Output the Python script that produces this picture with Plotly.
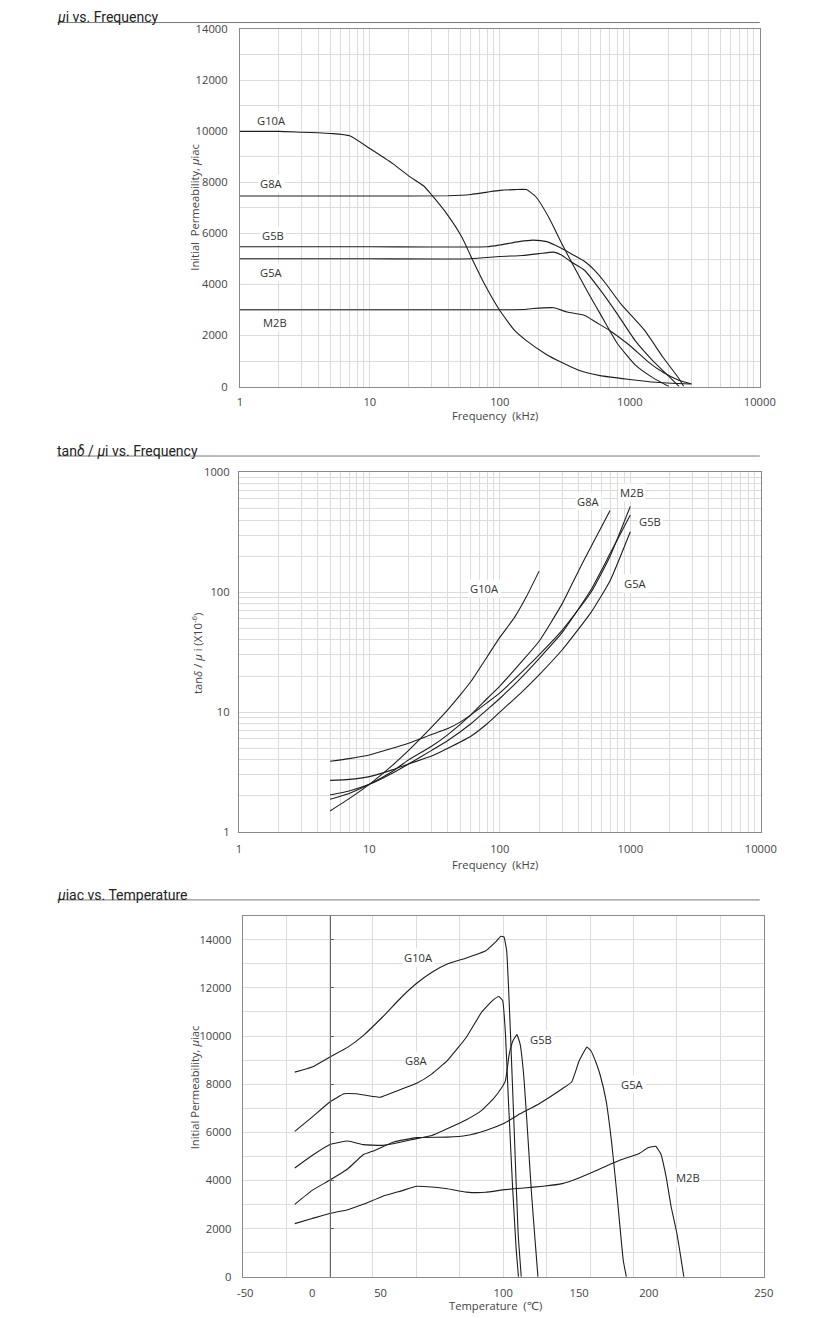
import math
import plotly.graph_objects as go

# Figure size; reference positions (in picture pixels) are mapped into figure
# pixels with the small offset/scale observed for the page in this viewer.
W, H = 821, 1318
SX, OX = 0.978, 5.5
SY, OY = 0.988, 7.95

# ---------------- Chart 1 : ui vs frequency ----------------
c1_names = ["G10A", "G8A", "G5B", "G5A", "M2B"]
c1_G10A_f = [1, 2, 3, 4, 5, 7, 10, 15, 20, 26, 30, 39, 51, 62, 76, 100, 130, 160, 225, 295, 400, 590, 1000, 1570, 2950]
c1_G10A_u = [10000, 10000, 9970, 9950, 9920, 9830, 9330, 8740, 8250, 7860, 7500, 6780, 5860, 4940, 4030, 2980, 2200, 1800, 1280, 960, 650, 430, 280, 170, 100]
c1_G8A_f = [1, 10, 40, 60, 80, 100, 130, 160, 190, 240, 300, 400, 500, 600, 800, 1100, 1500, 2000]
c1_G8A_u = [7470, 7470, 7480, 7530, 7620, 7690, 7720, 7720, 7430, 6600, 5600, 4400, 3500, 2800, 1700, 850, 350, 0]
c1_G5B_f = [1, 10, 80, 100, 140, 180, 230, 290, 370, 450, 530, 650, 850, 1300, 1800, 2400, 2600]
c1_G5B_u = [5480, 5480, 5480, 5550, 5680, 5740, 5680, 5450, 5150, 4900, 4580, 4050, 3250, 2200, 1150, 300, 0]
c1_G5A_f = [1, 10, 60, 100, 150, 200, 260, 300, 350, 450, 600, 800, 1100, 1500, 2000, 2400]
c1_G5A_u = [5010, 5010, 5010, 5100, 5140, 5210, 5270, 5150, 4900, 4550, 3750, 2850, 1800, 1020, 400, 0]
c1_M2B_f = [1, 10, 100, 150, 180, 260, 330, 450, 550, 700, 1000, 1400, 1800, 2400, 3000]
c1_M2B_u = [3010, 3010, 3010, 3020, 3060, 3090, 2920, 2790, 2520, 2200, 1610, 950, 560, 240, 100]
c1_lab_x = [1.75, 1.75, 1.79, 1.75, 1.87]
c1_lab_y = [10443, 7960, 5930, 4490, 2530]

# ---------------- Chart 2 : tan d / ui vs frequency ----------------
c2_G10A_f = [5, 7, 10, 15, 20, 30, 40, 50, 60, 80, 100, 130, 160, 200]
c2_G10A_v = [1.5, 1.9, 2.5, 3.6, 4.8, 7.5, 10.5, 14, 18, 29, 42, 62, 92, 150]
c2_G8A_f = [5, 7, 10, 15, 20, 30, 40, 60, 80, 100, 150, 200, 300, 400, 500, 700]
c2_G8A_v = [1.88, 2.1, 2.5, 3.2, 4.0, 5.2, 6.5, 9.5, 13, 16.5, 27, 39, 80, 150, 240, 480]
c2_M2B_f = [5, 7, 10, 20, 30, 40, 50, 60, 80, 100, 150, 200, 300, 500, 700, 1000]
c2_M2B_v = [3.9, 4.1, 4.4, 5.5, 6.5, 7.3, 8.3, 9.5, 12, 14.5, 22, 30, 48, 100, 200, 520]
c2_G5B_f = [5, 7, 10, 15, 20, 30, 40, 60, 80, 100, 150, 200, 300, 500, 700, 1000]
c2_G5B_v = [2.04, 2.2, 2.5, 3.1, 3.7, 4.8, 5.8, 8, 10.5, 13, 20, 28, 46, 105, 210, 440]
c2_G5A_f = [5, 7, 10, 15, 20, 30, 40, 60, 80, 100, 150, 200, 300, 500, 700, 1000]
c2_G5A_v = [2.7, 2.75, 2.9, 3.3, 3.7, 4.3, 5.0, 6.3, 8, 10, 15, 20.5, 33, 68, 125, 320]
c2_lab_names = ["G8A", "M2B", "G5B", "G10A", "G5A"]
c2_lab_x = [479, 1030, 1423, 76.4, 1102]
c2_lab_y = [568, 676, 392, 108, 119]

# ---------------- Chart 3 : uiac vs temperature ----------------
c3_G10A_t = [-20, -10, 0, 10.6, 19.4, 30.4, 41.4, 50.2, 59, 67.8, 78.8, 89.9, 95.4, 98.7, 100.4, 102, 104.2, 106.4, 108.6, 110.4]
c3_G10A_u = [8500, 8710, 9120, 9540, 10020, 10780, 11610, 12190, 12650, 12990, 13240, 13540, 13890, 14140, 14120, 13540, 10090, 5940, 1800, 0]
c3_G8A_t = [-20, -10, 0, 8.4, 15, 21.6, 29.3, 37, 50.2, 59, 67.8, 78.8, 87.6, 94.3, 97.5, 99.7, 101.3, 103, 105.3, 107.5, 108.8]
c3_G8A_u = [6040, 6630, 7250, 7600, 7600, 7530, 7460, 7670, 8040, 8430, 8980, 9950, 10990, 11500, 11640, 11470, 10090, 7330, 3870, 1110, 0]
c3_G5B_t = [-20, -10, 0, 10.6, 19.4, 30.4, 41.4, 50.2, 59, 70, 78.8, 87.6, 94.3, 98.7, 101.3, 103.5, 105.7, 107.9, 109.7, 111.9, 114.1, 116.3, 118.5, 120]
c3_G5B_u = [4520, 5040, 5490, 5640, 5490, 5460, 5600, 5740, 5870, 6220, 6520, 6910, 7390, 7810, 8150, 9260, 9810, 10060, 9670, 8290, 5940, 3460, 1380, 0]
c3_G5A_t = [-20, -10, 0, 10.6, 19.4, 26, 37, 50.2, 67.8, 78.8, 89.9, 100.9, 109.7, 120.7, 134, 139.4, 143.8, 148.2, 150.4, 153.7, 155.9, 159.2, 162.5, 165.8, 169.1, 170.9]
c3_G5A_u = [3010, 3590, 4010, 4490, 5070, 5250, 5600, 5780, 5800, 5870, 6080, 6390, 6770, 7190, 7810, 8090, 8980, 9540, 9400, 8850, 8360, 7330, 5530, 3180, 690, 0]
c3_M2B_t = [-20, -10, 0, 10.6, 19.4, 30.4, 41.4, 50.2, 59, 67.8, 78.8, 89.9, 100.9, 111.9, 122.9, 134, 145, 155.9, 167, 178, 183.4, 187.8, 190.7, 193.8, 196.7, 200, 202.2, 204]
c3_M2B_u = [2210, 2420, 2630, 2790, 3010, 3340, 3570, 3760, 3730, 3660, 3520, 3510, 3620, 3690, 3760, 3870, 4150, 4490, 4840, 5110, 5360, 5420, 5110, 4150, 2900, 1800, 830, 0]
c3_lab_x = [51.3, 50.2, 121.8, 174.2, 206.2]
c3_lab_y = [13240, 8983, 9840, 7988, 4118]
c3_tick_pos = [-48.5, -10, 29.4, 100, 143.7, 183.8, 250]
c3_tick_text = ["-50", "0", "50", "100", "150", "200", "250"]

LINE = dict(color="#1e1e1e", width=1.1, shape="spline", smoothing=0.5)
GRID = "#dcdcdc"
BOX = "#8a8a8a"
FS = 11.2
TICKFONT = dict(family="Open Sans, DejaVu Sans, sans-serif", size=FS, color="#444")


def fx(p):
    return (p - OX) / SX


def fy(p):
    return (p - OY) / SY


def px_x(p):
    return fx(p) / W


def px_y(p):
    return 1 - fy(p) / H


fig = go.Figure()

c1_data = [(c1_G10A_f, c1_G10A_u), (c1_G8A_f, c1_G8A_u), (c1_G5B_f, c1_G5B_u), (c1_G5A_f, c1_G5A_u), (c1_M2B_f, c1_M2B_u)]
for n, (f, u) in zip(c1_names, c1_data):
    fig.add_trace(go.Scatter(x=f, y=u, mode="lines", line=LINE, name=n, xaxis="x", yaxis="y", showlegend=False))

c2_data = [("G10A", c2_G10A_f, c2_G10A_v), ("G8A", c2_G8A_f, c2_G8A_v), ("M2B", c2_M2B_f, c2_M2B_v),
           ("G5B", c2_G5B_f, c2_G5B_v), ("G5A", c2_G5A_f, c2_G5A_v)]
for n, f, v in c2_data:
    fig.add_trace(go.Scatter(x=f, y=v, mode="lines", line=LINE, name=n, xaxis="x2", yaxis="y2", showlegend=False))

c3_data = [("G10A", c3_G10A_t, c3_G10A_u), ("G8A", c3_G8A_t, c3_G8A_u), ("G5B", c3_G5B_t, c3_G5B_u),
           ("G5A", c3_G5A_t, c3_G5A_u), ("M2B", c3_M2B_t, c3_M2B_u)]
for n, t, u in c3_data:
    fig.add_trace(go.Scatter(x=t, y=u, mode="lines",
                             line=dict(color="#1e1e1e", width=1.1, shape="spline", smoothing=0.35),
                             name=n, xaxis="x3", yaxis="y3", showlegend=False))


def log_ticks(dec_lo, dec_hi):
    vals, txt = [], []
    for d in range(dec_lo, dec_hi):
        for m in range(1, 10):
            vals.append(m * 10 ** d)
            txt.append(str(10 ** d) if m == 1 else "")
    vals.append(10 ** dec_hi)
    txt.append(str(10 ** dec_hi))
    return vals, txt


lx_vals, lx_txt = log_ticks(0, 4)
ly_vals, ly_txt = log_ticks(0, 3)
lin1_vals = list(range(0, 14001, 1000))
lin1_txt = [str(v) if v % 2000 == 0 else "" for v in lin1_vals]
lin3_vals = list(range(0, 15001, 1000))
lin3_txt = [str(v) if (v % 2000 == 0 and v <= 14000) else "" for v in lin3_vals]

common = dict(showline=True, linecolor=BOX, linewidth=1, mirror=True, gridcolor=GRID, gridwidth=1,
              zeroline=False, tickfont=TICKFONT, ticks="outside", tickcolor="rgba(0,0,0,0)")

d1x = [px_x(240.5), px_x(763)]
d1y = [px_y(386.3), px_y(29.3)]
d2x = [px_x(239.5), px_x(764)]
d2y = [px_y(831.5), px_y(472)]
d3x = [px_x(243.3), px_x(767)]
d3y = [px_y(1276), px_y(915)]

fig.update_layout(
    width=W, height=H, autosize=False, margin=dict(l=0, r=0, t=0, b=0),
    paper_bgcolor="white", plot_bgcolor="white",
    xaxis=dict(domain=d1x, anchor="y", type="log", range=[0, 4], tickmode="array", tickvals=lx_vals,
               ticktext=lx_txt, ticklen=5, **common),
    yaxis=dict(domain=d1y, anchor="x", range=[0, 14000], tickmode="array", tickvals=lin1_vals,
               ticktext=lin1_txt, ticklen=9, **common),
    xaxis2=dict(domain=d2x, anchor="y2", type="log", range=[0, 4], tickmode="array", tickvals=lx_vals,
                ticktext=lx_txt, ticklen=6, **common),
    yaxis2=dict(domain=d2y, anchor="x2", type="log", range=[0, 3], tickmode="array", tickvals=ly_vals,
                ticktext=ly_txt, ticklen=6, **common),
    xaxis3=dict(domain=d3x, anchor="y3", range=[-50, 250], tickmode="array", tickvals=c3_tick_pos,
                ticktext=c3_tick_text, showgrid=False, ticklen=6,
                minor=dict(tick0=0, dtick=25, showgrid=True, gridcolor=GRID, ticks=""),
                **{k: v for k, v in common.items() if k not in ("gridcolor", "gridwidth")}),
    yaxis3=dict(domain=d3y, anchor="x3", range=[0, 15000], tickmode="array", tickvals=lin3_vals,
                ticktext=lin3_txt, ticklen=8, **common),
    yaxis4=dict(overlaying="y3", anchor="free", position=px_x(330.7), range=[0, 15000],
                showline=True, linecolor="#666", linewidth=1.2, showgrid=False, zeroline=False,
                showticklabels=False, tickmode="array", tickvals=list(range(0, 14001, 2000)),
                ticks="inside", ticklen=3, tickcolor="#666"),
)
fig.add_trace(go.Scatter(x=[None], y=[None], xaxis="x3", yaxis="y4", showlegend=False, hoverinfo="skip"))

ann = []
LABFONT = dict(family="Open Sans, DejaVu Sans, sans-serif", size=FS, color="#333")
for n, x, y in zip(c1_names, c1_lab_x, c1_lab_y):
    ann.append(dict(x=math.log10(x), y=y, xref="x", yref="y", text=n, showarrow=False,
                    font=LABFONT, bgcolor="white", borderpad=1))
for n, x, y in zip(c2_lab_names, c2_lab_x, c2_lab_y):
    ann.append(dict(x=math.log10(x), y=math.log10(y), xref="x2", yref="y2", text=n, showarrow=False,
                    font=LABFONT, bgcolor="white", borderpad=1))
for n, x, y in zip(c1_names, c3_lab_x, c3_lab_y):
    ann.append(dict(x=x, y=y, xref="x3", yref="y3", text=n, showarrow=False,
                    font=LABFONT, bgcolor="white", borderpad=1))

HEADFONT = dict(family="Liberation Sans Narrow, Roboto, sans-serif", size=14, color="#222")
# (text, picture y of rule line, picture y of text-box bottom)
headers = [("<i>μ</i>i vs. Frequency", 22.5, 25.5), ("tan<i>δ</i> / <i>μ</i>i vs. Frequency", 455.7, 459.7),
           ("<i>μ</i>iac vs. Temperature", 899.3, 903.3)]
shapes = []
for txt, ly, tb in headers:
    ann.append(dict(x=px_x(56), y=px_y(tb), xref="paper", yref="paper", text=txt, showarrow=False,
                    xanchor="left", yanchor="bottom", font=HEADFONT, borderpad=0))
    shapes.append(dict(type="line", xref="paper", yref="paper", x0=px_x(57), x1=px_x(763),
                       y0=px_y(ly), y1=px_y(ly), line=dict(color="#777", width=1)))

TITLEFONT = dict(family="Open Sans, DejaVu Sans, sans-serif", size=FS, color="#444")
titles = [
    (497, 415, "Frequency  (kHz)", 0),
    (497, 864, "Frequency  (kHz)", 0),
    (497, 1304.5, "Temperature  (℃)", 0),
    (195, 207, "Initial  Permeability, <i>μ</i>iac", -90),
    (198, 653, "tan<i>δ</i> / <i>μ</i> i (X10<sup>-6</sup>)", -90),
    (195, 1087, "Initial Permeability, <i>μ</i>iac", -90),
]
for x, y, t, ang in titles:
    ann.append(dict(x=px_x(x), y=px_y(y), xref="paper", yref="paper", text=t, showarrow=False,
                    xanchor="center", yanchor="middle", textangle=ang, font=TITLEFONT, borderpad=0))

fig.update_layout(annotations=ann, shapes=shapes)
fig.write_html("out.html")
